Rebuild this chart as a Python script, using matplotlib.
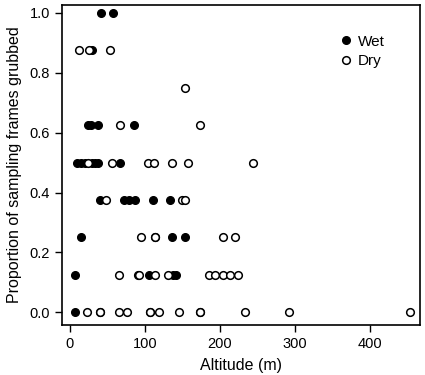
import matplotlib
matplotlib.use("Agg")
import matplotlib.pyplot as plt

plt.rcParams['font.family'] = ['Liberation Sans', 'DejaVu Sans']

# proportion levels (y) and altitude values (x)
wet_alt = [7,
           7, 105, 138, 141,
           15, 136, 154,
           40, 72, 79, 87, 111, 134,
           10, 15, 20, 30, 34, 38, 67,
           24, 28, 38, 86,
           30,
           41, 58]
wet_prop = [0.0,
            0.125, 0.125, 0.125, 0.125,
            0.25, 0.25, 0.25,
            0.375, 0.375, 0.375, 0.375, 0.375, 0.375,
            0.5, 0.5, 0.5, 0.5, 0.5, 0.5, 0.5,
            0.625, 0.625, 0.625, 0.625,
            0.875,
            1.0, 1.0]

dry_alt = [23, 40, 40, 65, 76, 107, 107, 119, 146, 173, 173, 234, 292, 454,
           65, 91, 92, 113, 131, 185, 194, 204, 214, 224,
           95, 113, 113, 204, 220,
           48, 150, 154,
           24, 56, 104, 112, 136, 158, 244,
           67, 173,
           154,
           12, 25, 53]
dry_prop = [0.0] * 14 + [0.125] * 10 + [0.25] * 5 + [0.375] * 3 + \
           [0.5] * 7 + [0.625] * 2 + [0.75] + [0.875] * 3

fig = plt.figure(figsize=(4.25, 3.75), dpi=100)
ax = fig.add_axes([0.145, 0.133, 0.843, 0.854])

ax.plot(wet_alt, wet_prop, 'o', color='black', markersize=5.5, linestyle='none',
        label='Wet')
ax.plot(dry_alt, dry_prop, 'o', markerfacecolor='white', markeredgecolor='black',
        markeredgewidth=1.1, markersize=5.5, linestyle='none', label='Dry')

ax.set_xlim(-11, 467)
ax.set_ylim(-0.043, 1.027)
ax.set_xticks([0, 100, 200, 300, 400])
ax.set_yticks([0.0, 0.2, 0.4, 0.6, 0.8, 1.0])
ax.set_yticklabels(['0.0', '0.2', '0.4', '0.6', '0.8', '1.0'])
ax.tick_params(direction='out', length=5, width=1, labelsize=10.5, colors='black')
for s in ax.spines.values():
    s.set_linewidth(1.2)

ax.set_xlabel('Altitude (m)', fontsize=11.5, labelpad=5)
ax.set_ylabel('Proportion of sampling frames grubbed', fontsize=11.5, labelpad=5)

ax.legend(loc='upper right', bbox_to_anchor=(0.94, 0.95), frameon=False,
          fontsize=11, handletextpad=0.3, labelspacing=0.38, handlelength=1.0)

fig.savefig('out.png', dpi=100)
